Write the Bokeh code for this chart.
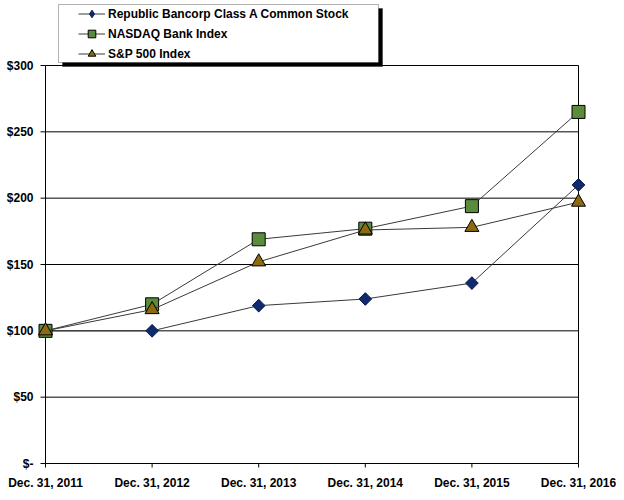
import math
from bokeh.plotting import figure
from bokeh.models import Legend, LegendItem, BoxAnnotation, ColumnDataSource
from bokeh.core.properties import value
from bokeh.embed import file_html
from bokeh.resources import INLINE

# ---- data ----
years = ["Dec. 31, 2011", "Dec. 31, 2012", "Dec. 31, 2013",
         "Dec. 31, 2014", "Dec. 31, 2015", "Dec. 31, 2016"]
republic = [100, 100, 119, 124, 136, 210]
nasdaq = [100, 120, 169, 177, 194, 265]
sp500 = [100, 116, 152, 176, 178, 197]
y_ticks = [0, 50, 100, 150, 200, 250, 300]
y_tick_labels = ["$-", "$50", "$100", "$150", "$200", "$250", "$300"]
series_names = ["Republic Bancorp Class A Common Stock", "NASDAQ Bank Index", "S&P 500 Index"]

FONT = "Liberation Sans"
xs = list(range(len(years)))

# ---- layout (canvas pixels) ----
W, H = 616, 492
AX0_PX, AX1_PX = 45, 578          # where first / last category sit
YTOP_PX, YBOT_PX = 65, 463        # where top / bottom tick sit
n = len(years) - 1
ppu_x = (AX1_PX - AX0_PX) / n
x_start = -AX0_PX / ppu_x
x_end = n + (W - AX1_PX) / ppu_x
ppu_y = (YBOT_PX - YTOP_PX) / (y_ticks[-1] - y_ticks[0])
y_start = y_ticks[0] - (H - YBOT_PX) / ppu_y
y_end = y_ticks[-1] + YTOP_PX / ppu_y

p = figure(width=W, height=H, x_range=(x_start, x_end), y_range=(y_start, y_end),
           output_backend="svg", toolbar_location=None,
           x_axis_location=None, y_axis_location=None,
           min_border_left=0, min_border_top=0, min_border_right=0, min_border_bottom=0)
p.background_fill_color = "white"
p.border_fill_color = "white"
p.outline_line_color = None
p.grid.visible = False

txt = dict(text_font=value(FONT), text_font_style="bold", text_font_size="12px",
           text_color="black")

# horizontal grid lines incl. x axis line
p.segment(x0=[0] * len(y_ticks), y0=y_ticks, x1=[n] * len(y_ticks), y1=y_ticks,
          line_color="black", line_width=1)
# y axis line and right border of plot area
p.segment(x0=[0, n], y0=[y_ticks[0]] * 2, x1=[0, n], y1=[y_ticks[-1]] * 2,
          line_color="black", line_width=1)
# y ticks + labels
p.ray(x=[0] * len(y_ticks), y=y_ticks, length=5, length_units="screen", angle=math.pi,
      line_color="black", line_width=1)
p.text(x=[0] * len(y_ticks), y=y_ticks, text=y_tick_labels, x_offset=-12,
       text_align="right", text_baseline="middle", **txt)
# x ticks + labels
p.ray(x=xs, y=[y_ticks[0]] * len(xs), length=4, length_units="screen", angle=-math.pi / 2,
      line_color="black", line_width=1)
p.text(x=xs, y=[y_ticks[0]] * len(xs), text=years, y_offset=19,
       text_align="center", text_baseline="middle", **txt)

line_color = "#3a3a3a"
src_r = ColumnDataSource(dict(x=xs, y=republic))
src_n = ColumnDataSource(dict(x=xs, y=nasdaq))
src_s = ColumnDataSource(dict(x=xs, y=sp500))

diamond_kw = dict(fill_color="#0f2b6e", line_color="#0a1f50", line_width=1)
l1 = p.line("x", "y", source=src_r, line_color=line_color, line_width=1)
# narrow diamond (used for the legend glyph), covered by the wider rotated square
leg_d = p.scatter("x", "y", source=src_r, marker="diamond", size=12, **diamond_kw)
m1 = p.scatter("x", "y", source=src_r, marker="square", angle=math.pi / 4, size=9, **diamond_kw)
l2 = p.line("x", "y", source=src_n, line_color=line_color, line_width=1)
m2 = p.scatter("x", "y", source=src_n, marker="square", size=13,
               fill_color="#5b8b3c", line_color="black", line_width=1)
l3 = p.line("x", "y", source=src_s, line_color=line_color, line_width=1)
m3 = p.scatter("x", "y", source=src_s, marker="triangle", size=14,
               fill_color="#8b6a10", line_color="black", line_width=1)

# legend box with shadow (canvas units)
shadow = BoxAnnotation(left=62, right=382, top=8, bottom=66,
                       left_units="canvas", right_units="canvas",
                       top_units="canvas", bottom_units="canvas",
                       fill_color="black", fill_alpha=1, line_color="black", level="annotation")
box = BoxAnnotation(left=58, right=378, top=4, bottom=62,
                    left_units="canvas", right_units="canvas",
                    top_units="canvas", bottom_units="canvas",
                    fill_color="white", fill_alpha=1, line_color="black", line_width=1,
                    level="annotation")
p.add_layout(shadow)
p.add_layout(box)

LEG_H = 3 * 19 + 2 * 1
legend = Legend(items=[
    LegendItem(label=series_names[0], renderers=[l1, leg_d]),
    LegendItem(label=series_names[1], renderers=[l2, m2]),
    LegendItem(label=series_names[2], renderers=[l3, m3]),
], location=(78, H - 4 - LEG_H), padding=0, margin=0, spacing=1,
   label_height=19, glyph_height=19, glyph_width=27, label_standoff=3,
   background_fill_alpha=0, border_line_alpha=0,
   label_text_font=FONT, label_text_font_style="bold", label_text_font_size="12px",
   label_text_color="black")
p.add_layout(legend, "center")

open("out.html", "w").write(file_html(p, INLINE))
